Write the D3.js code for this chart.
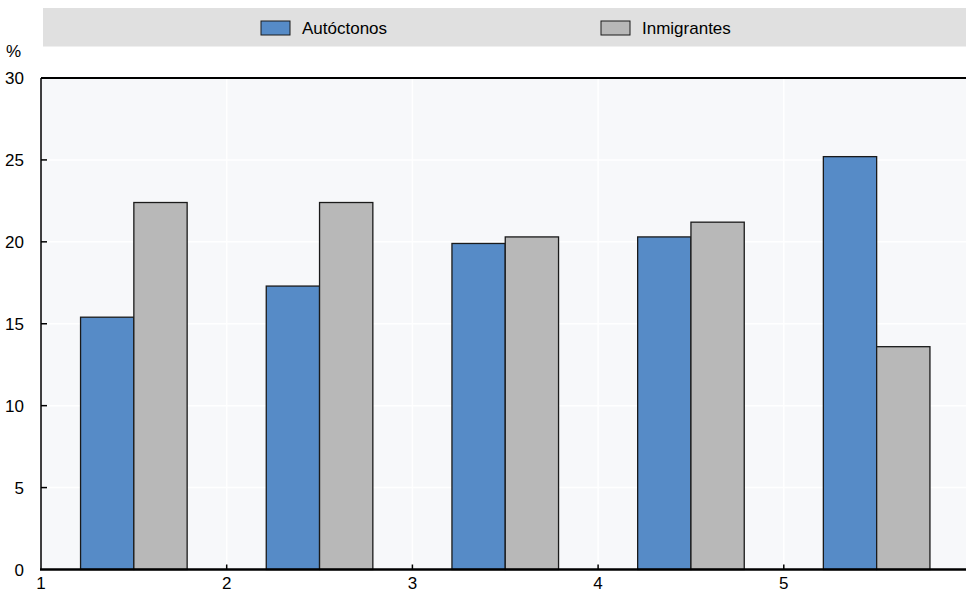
<!DOCTYPE html>
<html><head><meta charset="utf-8">
<script src="https://cdn.jsdelivr.net/npm/d3@7"></script>
<style>body{margin:0;background:#fff}svg{display:block}text{font-family:"Liberation Sans",Arial,Helvetica,sans-serif;fill:#000}</style>
</head><body><svg id="c" width="966" height="594"></svg>
<script>
const categories = [1, 2, 3, 4, 5];
const seriesNames = ["Autóctonos", "Inmigrantes"];
const autoctonos = [15.4, 17.3, 19.9, 20.3, 25.2];
const inmigrantes = [22.4, 22.4, 20.3, 21.2, 13.6];
const yTicks = [0, 5, 10, 15, 20, 25, 30];
const xTicks = [1, 2, 3, 4, 5];
const colors = ["#568bc7", "#b8b8b8"];

const svg = d3.select("#c");
const L = 41, T = 78, B = 569.5, R = 966;
const x = d3.scaleLinear().domain([1, 6]).range([L, L + 5 * 185.7]);
const y = d3.scaleLinear().domain([0, 30]).range([B, T]);

svg.append("defs").append("clipPath").attr("id","clip").append("rect")
  .attr("x", L).attr("y", T - 2).attr("width", R - L).attr("height", B - T + 4);

svg.append("rect").attr("x", L).attr("y", T).attr("width", R - L).attr("height", B - T).attr("fill", "#f7f8fa");

const g = svg.append("g").attr("clip-path", "url(#clip)");
g.selectAll("line.hg").data(yTicks.filter(d => d > 0 && d < 30)).enter().append("line")
  .attr("x1", L).attr("x2", R).attr("y1", d => y(d)).attr("y2", d => y(d))
  .attr("stroke", "#fff").attr("stroke-width", 1.5);
g.selectAll("line.vg").data(xTicks.filter(d => d > 1)).enter().append("line")
  .attr("x1", d => x(d)).attr("x2", d => x(d)).attr("y1", T).attr("y2", B)
  .attr("stroke", "#fff").attr("stroke-width", 1.5);

const bw = 0.287;
const series = [autoctonos, inmigrantes];
series.forEach((vals, si) => {
  g.selectAll("rect.s" + si).data(categories).enter().append("rect")
    .attr("x", (d) => x(d + 0.5 + (si === 0 ? -bw : 0)))
    .attr("width", x(1 + bw) - x(1))
    .attr("y", (d, i) => y(vals[i]))
    .attr("height", (d, i) => y(0) - y(vals[i]))
    .attr("fill", colors[si]).attr("stroke", "#1a1a1a").attr("stroke-width", 1.3);
});

svg.append("line").attr("x1", L).attr("x2", R).attr("y1", T).attr("y2", T).attr("stroke", "#000").attr("stroke-width", 2);
svg.append("line").attr("x1", L).attr("x2", L).attr("y1", T).attr("y2", B).attr("stroke", "#000").attr("stroke-width", 1.5);
svg.append("line").attr("x1", L - 1).attr("x2", R).attr("y1", B).attr("y2", B).attr("stroke", "#000").attr("stroke-width", 2.5);

svg.selectAll("line.yt").data(yTicks.filter(d => d > 0 && d < 30)).enter().append("line")
  .attr("x1", L).attr("x2", L + 6).attr("y1", d => y(d)).attr("y2", d => y(d))
  .attr("stroke", "#000").attr("stroke-width", 1.5);
svg.selectAll("text.yl").data(yTicks).enter().append("text")
  .attr("x", 24).attr("y", d => y(d) + 6).attr("text-anchor", "end")
  .attr("font-size", 17).text(d => d);
svg.append("text").attr("x", 13.5).attr("y", 57).attr("text-anchor", "middle").attr("font-size", 17).text("%");

svg.selectAll("line.xt").data(xTicks.filter(d => d > 1)).enter().append("line")
  .attr("x1", d => x(d)).attr("x2", d => x(d)).attr("y1", B).attr("y2", B - 5)
  .attr("stroke", "#000").attr("stroke-width", 1.5);
svg.selectAll("text.xl").data(xTicks).enter().append("text")
  .attr("x", d => x(d)).attr("y", 589).attr("text-anchor", "middle")
  .attr("font-size", 17).text(d => d);

svg.append("rect").attr("x", 43).attr("y", 8).attr("width", R - 43).attr("height", 38.5).attr("fill", "#e0e0e0");
const legX = [261, 601];
seriesNames.forEach((n, i) => {
  svg.append("rect").attr("x", legX[i]).attr("y", 21).attr("width", 29).attr("height", 14)
    .attr("fill", colors[i]).attr("stroke", "#1a1a1a").attr("stroke-width", 1);
  svg.append("text").attr("x", legX[i] + 41).attr("y", 33.5).attr("font-size", 17).text(n);
});
</script></body></html>
